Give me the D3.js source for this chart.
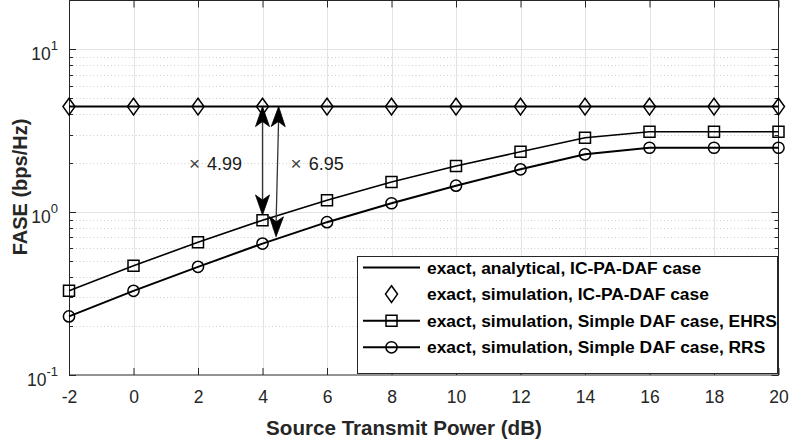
<!DOCTYPE html>
<html>
<head>
<meta charset="utf-8">
<script src="https://cdn.jsdelivr.net/npm/d3@7"></script>
<style>
  body { margin: 0; background: #fff; }
  svg { display: block; font-family: "Liberation Sans", Arial, Helvetica, sans-serif; }
</style>
</head>
<body>
<div id="chart"></div>
<script>
// source transmit power (dB)
const xValues = [-2, 0, 2, 4, 6, 8, 10, 12, 14, 16, 18, 20];
const analyticalIcPa = [4.46, 4.46, 4.46, 4.46, 4.46, 4.46, 4.46, 4.46, 4.46, 4.46, 4.46, 4.46];
const simulationIcPa = [4.46, 4.46, 4.46, 4.46, 4.46, 4.46, 4.46, 4.46, 4.46, 4.46, 4.46, 4.46];
const simpleEhrs = [0.329, 0.469, 0.654, 0.893, 1.185, 1.534, 1.923, 2.354, 2.87, 3.12, 3.12, 3.12];
const simpleRrs = [0.229, 0.329, 0.462, 0.642, 0.869, 1.136, 1.456, 1.835, 2.27, 2.49, 2.49, 2.49];

const xTicks = [-2, 0, 2, 4, 6, 8, 10, 12, 14, 16, 18, 20];
const yTicks = [0.1, 1, 10];
const yTickExp = ["-1", "0", "1"];

const legendLabels = [
  "exact, analytical, IC-PA-DAF case",
  "exact, simulation, IC-PA-DAF case",
  "exact, simulation, Simple DAF case, EHRS",
  "exact, simulation, Simple DAF case, RRS"
];

// double arrows: [x top, y top, x bottom, y bottom] in data units
const arrows = [
  [4, 4.46, 4, 0.962],
  [4.5, 4.46, 4.42, 0.708]
];
const ratioLabels = [
  { text: "4.99", x: 1.72, y: 1.817 },
  { text: "6.95", x: 4.87, y: 1.817 }
];

const width = 792, height = 445;
const margin = { top: 0, left: 69, right: 792 - 778.5, bottom: 445 - 375 };
const axisColor = "#262626";

const svg = d3.select("#chart").append("svg")
  .attr("width", width)
  .attr("height", height);

const x = d3.scaleLinear().domain([-2, 20]).range([margin.left, width - margin.right]);
const y = d3.scaleLog().domain([0.1, 20]).range([height - margin.bottom, margin.top + 0.5]);

const x0 = x.range()[0], x1 = x.range()[1];
const y0 = y.range()[0], y1 = y.range()[1];

// grid
const minorY = [];
[0.1, 1, 10].forEach(d => {
  for (let k = 2; k <= 9; k++) {
    const v = d * k;
    if (v < 20) minorY.push(v);
  }
});

svg.append("g").selectAll("line")
  .data(minorY)
  .enter().append("line")
  .attr("x1", x0).attr("x2", x1)
  .attr("y1", d => Math.round(y(d)) + 0.5)
  .attr("y2", d => Math.round(y(d)) + 0.5)
  .attr("stroke", "#cfcfcf")
  .attr("stroke-dasharray", "1,2.5");

svg.append("g").selectAll("line")
  .data(xTicks.slice(1, -1))
  .enter().append("line")
  .attr("x1", d => Math.round(x(d)) + 0.5).attr("x2", d => Math.round(x(d)) + 0.5)
  .attr("y1", y1).attr("y2", y0)
  .attr("stroke", "#e3e3e3");

svg.append("g").selectAll("line")
  .data([1, 10])
  .enter().append("line")
  .attr("x1", x0).attr("x2", x1)
  .attr("y1", d => Math.round(y(d)) + 0.5)
  .attr("y2", d => Math.round(y(d)) + 0.5)
  .attr("stroke", "#e3e3e3");

// axes with inward ticks
const bottomAxis = d3.axisBottom(x).tickValues(xTicks).tickSizeInner(-7).tickSizeOuter(0).tickPadding(16);
const topAxis = d3.axisTop(x).tickValues(xTicks).tickSizeInner(-7).tickSizeOuter(0).tickFormat("");

const gx = svg.append("g")
  .attr("transform", `translate(0,${y0})`)
  .call(bottomAxis);
gx.select(".domain").remove();
gx.selectAll("line").attr("stroke", axisColor);
gx.selectAll("text")
  .attr("fill", axisColor)
  .style("font-size", "17.5px")
  .text(d => d < 0 ? "-" + Math.abs(d) : d);

const gxt = svg.append("g")
  .attr("transform", `translate(0,${y1})`)
  .call(topAxis);
gxt.select(".domain").remove();
gxt.selectAll("line").attr("stroke", axisColor);

// y ticks (major + minor) on both sides
[x0, x1].forEach(px => {
  const dir = px === x0 ? 1 : -1;
  svg.append("g").selectAll("line")
    .data(minorY)
    .enter().append("line")
    .attr("x1", px).attr("x2", px + dir * 4)
    .attr("y1", d => Math.round(y(d)) + 0.5)
    .attr("y2", d => Math.round(y(d)) + 0.5)
    .attr("stroke", axisColor);
  svg.append("g").selectAll("line")
    .data(yTicks)
    .enter().append("line")
    .attr("x1", px).attr("x2", px + dir * 7)
    .attr("y1", d => Math.round(y(d)) + 0.5)
    .attr("y2", d => Math.round(y(d)) + 0.5)
    .attr("stroke", axisColor);
});

// y tick labels 10^n
const ylab = svg.append("g").selectAll("text")
  .data(yTicks)
  .enter().append("text")
  .attr("x", x0 - 11)
  .attr("y", d => y(d) + 11)
  .attr("text-anchor", "end")
  .attr("fill", axisColor)
  .style("font-size", "17.5px");
ylab.append("tspan").text("10");
ylab.append("tspan")
  .attr("dy", -10)
  .style("font-size", "13px")
  .text((d, i) => yTickExp[i]);

// box
svg.append("rect")
  .attr("x", x0 + 0.5).attr("y", y1)
  .attr("width", x1 - x0 - 0.5).attr("height", y0 - y1)
  .attr("fill", "none")
  .attr("stroke", axisColor)
  .attr("stroke-width", 1);

// series
const pts = vals => xValues.map((d, i) => [d, vals[i]]);
const line = d3.line().x(d => x(d[0])).y(d => y(d[1]));

svg.append("path")
  .datum(pts(analyticalIcPa))
  .attr("d", line)
  .attr("fill", "none")
  .attr("stroke", "#000")
  .attr("stroke-width", 2);

svg.append("path")
  .datum(pts(simpleEhrs))
  .attr("d", line)
  .attr("fill", "none")
  .attr("stroke", "#000")
  .attr("stroke-width", 1.6);

svg.append("path")
  .datum(pts(simpleRrs))
  .attr("d", line)
  .attr("fill", "none")
  .attr("stroke", "#000")
  .attr("stroke-width", 2);

const diamond = "M0,-8.3L6,0L0,8.3L-6,0Z";
const square = "M-5.5,-5.5H5.5V5.5H-5.5Z";

svg.append("g").selectAll("path")
  .data(pts(simulationIcPa))
  .enter().append("path")
  .attr("transform", d => `translate(${x(d[0])},${y(d[1])})`)
  .attr("d", diamond)
  .attr("fill", "none")
  .attr("stroke", "#000")
  .attr("stroke-width", 1.5);

svg.append("g").selectAll("path")
  .data(pts(simpleEhrs))
  .enter().append("path")
  .attr("transform", d => `translate(${x(d[0])},${y(d[1])})`)
  .attr("d", square)
  .attr("fill", "none")
  .attr("stroke", "#000")
  .attr("stroke-width", 1.5);

svg.append("g").selectAll("circle")
  .data(pts(simpleRrs))
  .enter().append("circle")
  .attr("cx", d => x(d[0]))
  .attr("cy", d => y(d[1]))
  .attr("r", 5.6)
  .attr("fill", "none")
  .attr("stroke", "#000")
  .attr("stroke-width", 1.5);

// double arrows
const head = "M0,0L7,20L0,15L-7,20Z";
arrows.forEach(a => {
  const xa = x(a[0]), ya = y(a[1]), xb = x(a[2]), yb = y(a[3]);
  const ang = Math.atan2(yb - ya, xb - xa) * 180 / Math.PI;
  svg.append("line")
    .attr("x1", xa).attr("y1", ya + 12)
    .attr("x2", xb).attr("y2", yb - 12)
    .attr("stroke", "#333")
    .attr("stroke-width", 1.3);
  svg.append("path")
    .attr("d", head)
    .attr("transform", `translate(${xa},${ya}) rotate(${ang - 90})`)
    .attr("fill", "#000")
    .attr("stroke", "#000")
    .attr("stroke-width", 0.8)
    .attr("stroke-linejoin", "miter");
  svg.append("path")
    .attr("d", head)
    .attr("transform", `translate(${xb},${yb}) rotate(${ang + 90})`)
    .attr("fill", "#000")
    .attr("stroke", "#000")
    .attr("stroke-width", 0.8)
    .attr("stroke-linejoin", "miter");
});

const rl = svg.append("g").selectAll("text")
  .data(ratioLabels)
  .enter().append("text")
  .attr("x", d => x(d.x))
  .attr("y", d => y(d.y))
  .attr("fill", "#1a1a1a")
  .style("font-size", "18px");
rl.append("tspan").style("font-size", "19px").attr("fill", "#444").text("\u00d7");
rl.append("tspan").attr("dx", 7).text(d => d.text);

// legend
const lg = svg.append("g").attr("transform", "translate(357,256)");
lg.append("rect")
  .attr("x", 0.5).attr("y", 0.5)
  .attr("width", 420).attr("height", 117)
  .attr("fill", "#fff")
  .attr("stroke", axisColor);

const rowY = i => 11.5 + i * 26.6;
lg.selectAll("text")
  .data(legendLabels)
  .enter().append("text")
  .attr("x", 70)
  .attr("y", (d, i) => rowY(i) + 6)
  .attr("fill", "#000")
  .style("font-size", "17.4px")
  .style("font-weight", "bold")
  .text(d => d);

[0, 2, 3].forEach(i => {
  lg.append("line")
    .attr("x1", 6).attr("x2", 63)
    .attr("y1", rowY(i)).attr("y2", rowY(i))
    .attr("stroke", "#000")
    .attr("stroke-width", 2);
});
lg.append("path").attr("transform", `translate(34.5,${rowY(1)})`).attr("d", diamond)
  .attr("fill", "none").attr("stroke", "#000").attr("stroke-width", 1.5);
lg.append("path").attr("transform", `translate(34.5,${rowY(2)})`).attr("d", square)
  .attr("fill", "none").attr("stroke", "#000").attr("stroke-width", 1.5);
lg.append("circle").attr("cx", 34.5).attr("cy", rowY(3)).attr("r", 5.6)
  .attr("fill", "none").attr("stroke", "#000").attr("stroke-width", 1.5);

// axis titles
svg.append("text")
  .attr("x", 404)
  .attr("y", 435)
  .attr("text-anchor", "middle")
  .attr("fill", axisColor)
  .style("font-size", "20.6px")
  .style("font-weight", "bold")
  .text("Source Transmit Power (dB)");

svg.append("text")
  .attr("transform", "translate(27,187) rotate(-90)")
  .attr("text-anchor", "middle")
  .attr("fill", axisColor)
  .style("font-size", "20px")
  .style("font-weight", "bold")
  .text("FASE (bps/Hz)");
</script>
</body>
</html>
